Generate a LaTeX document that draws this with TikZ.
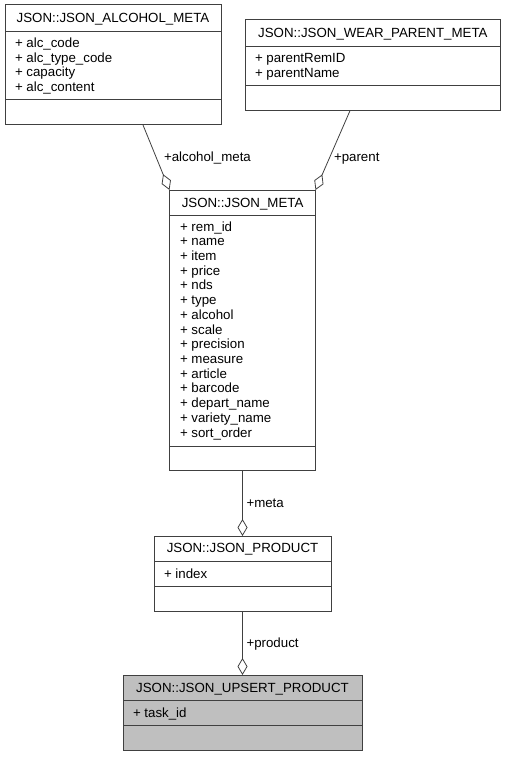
\documentclass[tikz,border=0pt]{standalone}
\usepackage{fontspec}
\setmainfont{Liberation Sans}
\usetikzlibrary{arrows.meta}
\definecolor{bordercol}{HTML}{404040}
\definecolor{rootfill}{HTML}{BFBFBF}
\tikzset{
  cls/.style={rectangle, draw=bordercol, line width=1pt, fill=white, inner sep=0pt, outer sep=0pt},
  sepline/.style={draw=bordercol, line width=1pt},
  txt/.style={inner sep=0pt, outer sep=0pt, font=\fontsize{13.3}{14.6}\selectfont, text=black},
  edge/.style={draw=bordercol, line width=0.8pt, -{Diamond[open, length=17pt, width=10pt, line width=0.8pt]}},
}
\begin{document}
\begin{tikzpicture}[x=1pt, y=-1pt]
\useasboundingbox (0,0) rectangle (507,757);
% ---------- JSON_ALCOHOL_META ----------
\node[cls, minimum width=216pt, minimum height=120pt] (alc) at (113,65) {};
\draw[sepline] (5,31.7) -- (221,31.7);
\draw[sepline] (5,100) -- (221,100);
\node[txt, anchor=base] (alct) at (113,22.6) {JSON::JSON\_ALCOHOL\_META};
\foreach \t [count=\i from 0] in {alc\_code, alc\_type\_code, capacity, alc\_content}
  \node[txt, anchor=base west] (alca\i) at (15,{47.8+14.6*\i}) {+ \t};
% ---------- JSON_WEAR_PARENT_META ----------
\node[cls, minimum width=255.7pt, minimum height=90.7pt] (wear) at (372.85,65.35) {};
\draw[sepline] (245,46.7) -- (500.7,46.7);
\draw[sepline] (245,85.7) -- (500.7,85.7);
\node[txt, anchor=base] (weart) at (372.85,37.6) {JSON::JSON\_WEAR\_PARENT\_META};
\foreach \t [count=\i from 0] in {parentRemID, parentName}
  \node[txt, anchor=base west] (weara\i) at (255,{62.5+14.6*\i}) {+ \t};
% ---------- JSON_META ----------
\node[cls, minimum width=146.2pt, minimum height=280.7pt] (meta) at (242.6,330.35) {};
\draw[sepline] (169.5,215.7) -- (315.7,215.7);
\draw[sepline] (169.5,446.7) -- (315.7,446.7);
\node[txt, anchor=base] (metat) at (242.6,207) {JSON::JSON\_META};
\foreach \t [count=\i from 0] in {rem\_id, name, item, price, nds, type, alcohol, scale, precision, measure, article, barcode, depart\_name, variety\_name, sort\_order}
  \node[txt, anchor=base west] (metaa\i) at (180,{231+14.72*\i}) {+ \t};
% ---------- JSON_PRODUCT ----------
\node[cls, minimum width=177pt, minimum height=75.5pt] (prod) at (242.5,573.75) {};
\draw[sepline] (154,561.5) -- (331,561.5);
\draw[sepline] (154,586.5) -- (331,586.5);
\node[txt, anchor=base] (prodt) at (242.5,552.7) {JSON::JSON\_PRODUCT};
\node[txt, anchor=base west] (proda0) at (164,578.2) {+ index};
% ---------- JSON_UPSERT_PRODUCT ----------
\node[cls, fill=rootfill, minimum width=239pt, minimum height=75.7pt] (ups) at (242.5,712.85) {};
\draw[sepline] (123,700.7) -- (362,700.7);
\draw[sepline] (123,725.7) -- (362,725.7);
\node[txt, anchor=base] (upst) at (242.5,692.2) {JSON::JSON\_UPSERT\_PRODUCT};
\node[txt, anchor=base west] (upsa0) at (133,717.4) {+ task\_id};
% ---------- connectors ----------
\coordinate (alcS) at (143,125);
\coordinate (alcE) at (169.5,190);
\coordinate (wearS) at (350,110.7);
\coordinate (wearE) at (315.5,190);
\coordinate (metaS) at (242.5,470.7);
\coordinate (metaE) at (242.5,536);
\coordinate (prodS) at (242.5,611.5);
\coordinate (prodE) at (242.5,675);
\draw[edge] (alcS) -- (alcE);
\draw[edge] (wearS) -- (wearE);
\draw[edge] (metaS) -- (metaE);
\draw[edge] (prodS) -- (prodE);
\node[txt, anchor=base west] (lalc) at (164,161.5) {+alcohol\_meta};
\node[txt, anchor=base west] (lwear) at (334,161.5) {+parent};
\node[txt, anchor=base west] (lmeta) at (246.5,507.5) {+meta};
\node[txt, anchor=base west] (lprod) at (246.5,647) {+product};
\end{tikzpicture}
\end{document}
